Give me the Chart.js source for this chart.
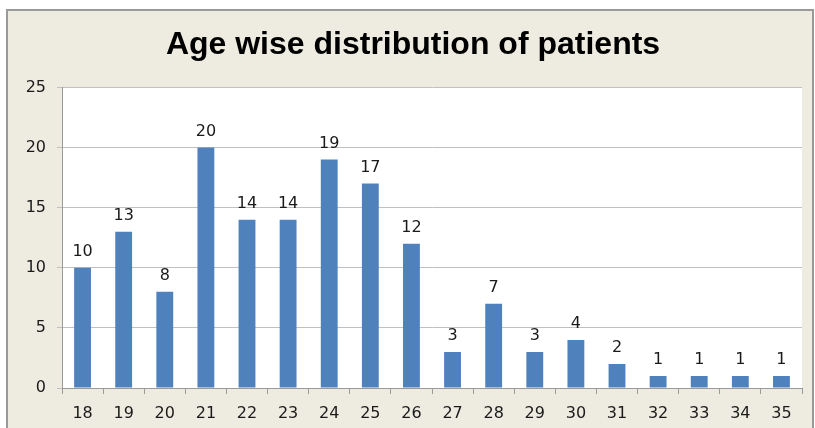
<!DOCTYPE html>
<html>
<head>
<meta charset="utf-8">
<script src="https://cdn.jsdelivr.net/npm/chart.js@4"></script>
<style>
  html, body { margin: 0; padding: 0; background: #fff; }
  #frame {
    position: absolute; left: 6px; top: 9px; width: 804px; height: 440px;
    border: 2px solid #9a9a9a; background: #eeece1;
  }
  #wrap { position: absolute; left: 0; top: 0; width: 815px; height: 428px; }
</style>
</head>
<body>
<div id="frame"></div>
<div id="wrap"><canvas id="ageChart" width="815" height="428"></canvas></div>
<script>
// ages on the x axis and patient counts per age
const ages = ['18','19','20','21','22','23','24','25','26','27','28','29','30','31','32','33','34','35'];
const patients = [10, 13, 8, 20, 14, 14, 19, 17, 12, 3, 7, 3, 4, 2, 1, 1, 1, 1];
const yTicks = [0, 5, 10, 15, 20, 25];

document.addEventListener('DOMContentLoaded', () => {
    const ctx = document.getElementById('ageChart').getContext('2d');

    // white plot area behind the bars
    const plotBg = {
        id: 'plotBg',
        beforeDraw(chart) {
            const a = chart.chartArea;
            const c = chart.ctx;
            c.save();
            c.fillStyle = '#ffffff';
            c.fillRect(a.left, a.top, a.right - a.left, a.bottom - a.top);
            c.restore();
        }
    };

    // value above each bar
    const barLabels = {
        id: 'barLabels',
        afterDatasetsDraw(chart) {
            const c = chart.ctx;
            const meta = chart.getDatasetMeta(0);
            c.save();
            c.font = '16px "DejaVu Sans"';
            c.fillStyle = '#1a1a1a';
            c.textAlign = 'center';
            c.textBaseline = 'bottom';
            meta.data.forEach((bar, i) => {
                c.fillText(String(patients[i]), bar.x, bar.y - 8);
            });
            c.restore();
        }
    };

    new Chart(ctx, {
        type: 'bar',
        data: {
            labels: ages,
            datasets: [{
                label: 'Patients',
                data: patients,
                backgroundColor: '#4f81bd',
                borderWidth: 0,
                categoryPercentage: 1,
                barPercentage: 0.41
            }]
        },
        options: {
            responsive: false,
            animation: false,
            // some left padding nudges the title centre right, y labels still fit
            layout: { padding: { left: 24, right: 13, top: 0, bottom: 0 } },
            plugins: {
                legend: { display: false },
                tooltip: { enabled: false },
                title: {
                    display: true,
                    text: 'Age wise distribution of patients',
                    color: '#000',
                    font: { family: '"Liberation Sans"', size: 32, weight: 'bold' },
                    padding: { top: 26, bottom: 23 }
                }
            },
            scales: {
                x: {
                    grid: { offset: true, drawOnChartArea: false, drawTicks: true, tickLength: 6, color: '#9a9a9a' },
                    border: { color: '#9a9a9a', width: 1 },
                    ticks: { color: '#1a1a1a', font: { family: '"DejaVu Sans"', size: 16 }, padding: 10, maxRotation: 0 },
                    afterFit(scale) { scale.height = 40; }
                },
                y: {
                    min: 0,
                    max: 25,
                    afterBuildTicks(scale) { scale.ticks = yTicks.map(v => ({ value: v })); },
                    grid: { color: '#c0c0c0', tickLength: 5 },
                    border: { color: '#9a9a9a', width: 1 },
                    ticks: { color: '#1a1a1a', font: { family: '"DejaVu Sans"', size: 16 }, padding: 11 },
                    afterFit(scale) { scale.width = 38; }
                }
            }
        },
        plugins: [plotBg, barLabels]
    });
});
</script>
</body>
</html>
